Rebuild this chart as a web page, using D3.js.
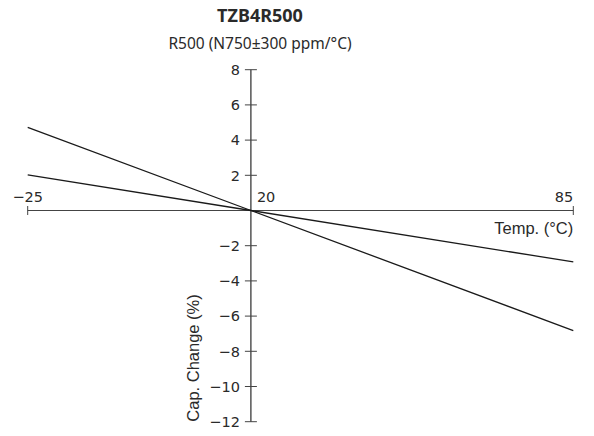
<!DOCTYPE html>
<html>
<head>
<meta charset="utf-8">
<script src="https://cdn.jsdelivr.net/npm/d3@7"></script>
<style>
  html, body { margin: 0; padding: 0; background: #fff; }
  svg { display: block; font-family: "DejaVu Sans", sans-serif; }
</style>
</head>
<body>
<svg id="chart" width="594" height="436"></svg>
<script>
const title = "TZB4R500";
const subtitle = "R500 (N750±300 ppm/°C)";
const temps = [-25, 20, 85];
const upperSeries = [4.72, 0, -6.82];
const lowerSeries = [2.02, 0, -2.92];
const yTicks = [8, 6, 4, 2, -2, -4, -6, -8, -10, -12];
const xTickLabels = [-25, 20, 85];
const xLabel = "Temp. (°C)";
const yLabel = "Cap. Change (%)";

const svg = d3.select("#chart");
const ink = "#2a2a2a";
const x = d3.scaleLinear().domain([-25, 85]).range([27.7, 573.3]);
const y = d3.scaleLinear().domain([-12, 8]).range([421.7, 69.7]);
const fmt = d => (d < 0 ? "\u2212" + Math.abs(d) : String(d));
const tickFont = "DejaVu Sans, sans-serif";
const labelFont = "Liberation Sans, Arial, sans-serif";
const titleFont = "Noto Sans, sans-serif";

// titles
svg.append("text").attr("x", 260).attr("y", 22).attr("text-anchor", "middle")
  .attr("font-family", titleFont).attr("font-size", 18).attr("font-weight", "bold")
  .attr("fill", ink).text(title);
svg.append("text").attr("x", 260).attr("y", 49).attr("text-anchor", "middle")
  .attr("font-family", titleFont).attr("font-size", 15.5).attr("fill", ink).text(subtitle);

// x axis
svg.append("line").attr("x1", x(-25)).attr("x2", x(85)).attr("y1", y(0)).attr("y2", y(0))
  .attr("stroke", "#444").attr("stroke-width", 1);
[-25, 85].forEach(t => {
  svg.append("line").attr("x1", x(t)).attr("x2", x(t)).attr("y1", y(0) - 4.5).attr("y2", y(0) + 4.5)
    .attr("stroke", "#444").attr("stroke-width", 1);
});
const xl = svg.append("g").attr("font-family", tickFont).attr("font-size", 14.5).attr("fill", ink);
xl.append("text").attr("x", x(-25)).attr("y", y(0) - 9).attr("text-anchor", "middle").text(fmt(xTickLabels[0]));
xl.append("text").attr("x", x(20) + 6).attr("y", y(0) - 9).attr("text-anchor", "start").text(fmt(xTickLabels[1]));
xl.append("text").attr("x", x(85)).attr("y", y(0) - 9).attr("text-anchor", "end").text(fmt(xTickLabels[2]));
svg.append("text").attr("x", x(85)).attr("y", y(0) + 23).attr("text-anchor", "end")
  .attr("font-family", labelFont).attr("font-size", 16.5).attr("fill", ink).text(xLabel);

// y axis
svg.append("line").attr("x1", x(20)).attr("x2", x(20)).attr("y1", y(8)).attr("y2", y(-12))
  .attr("stroke", ink).attr("stroke-width", 1.2);
const yt = svg.append("g").selectAll("g").data(yTicks).join("g")
  .attr("transform", d => `translate(${x(20)},${y(d)})`);
yt.append("line").attr("x1", -6).attr("x2", 6).attr("stroke", "#444");
yt.append("text").attr("x", -11).attr("dy", "0.36em").attr("text-anchor", "end")
  .attr("font-family", tickFont).attr("font-size", 14.5).attr("fill", ink).text(fmt);
svg.append("text").attr("transform", `translate(198.5,${y(-12)}) rotate(-90)`)
  .attr("text-anchor", "start").attr("font-family", labelFont).attr("font-size", 16.5)
  .attr("fill", ink).text(yLabel);

// series
const line = d3.line().x((d, i) => x(temps[i])).y(d => y(d));
[upperSeries, lowerSeries].forEach(s => {
  svg.append("path").datum(s).attr("d", line).attr("fill", "none")
    .attr("stroke", "#1a1a1a").attr("stroke-width", 1.3);
});
</script>
</body>
</html>
